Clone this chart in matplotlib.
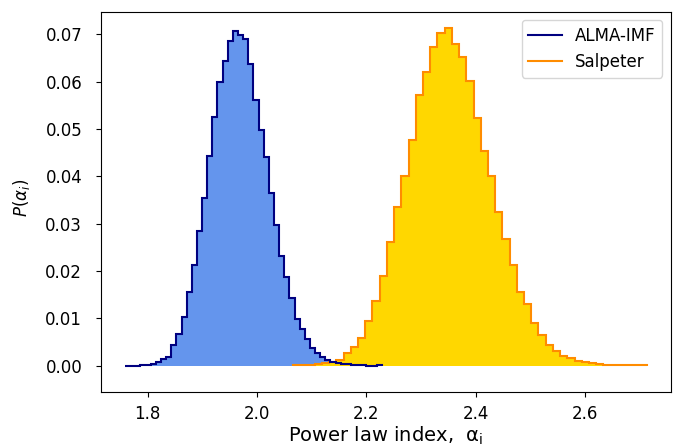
import numpy as np
import matplotlib
matplotlib.use("Agg")
import matplotlib.pyplot as plt
from matplotlib.lines import Line2D
from matplotlib.ticker import FormatStrFormatter

# Posterior of the power-law index: normalised histograms (weights sum to 1)
alma_range = (1.759, 2.228)
alma_nbins = 50
alma_prob = [
    0.0000, 0.0000, 0.0000, 0.0001, 0.0001, 0.0003, 0.0007, 0.0014, 0.0019, 0.0044,
    0.0067, 0.0104, 0.0155, 0.0212, 0.0284, 0.0354, 0.0444, 0.0526, 0.0600, 0.0643,
    0.0687, 0.0708, 0.0698, 0.0691, 0.0638, 0.0562, 0.0499, 0.0442, 0.0364, 0.0298,
    0.0231, 0.0187, 0.0143, 0.0098, 0.0077, 0.0056, 0.0037, 0.0027, 0.0018, 0.0013,
    0.0007, 0.0005, 0.0003, 0.0003, 0.0001, 0.0001, 0.0001, 0.0000, 0.0000, 0.0001,
]

salp_range = (2.066, 2.712)
salp_nbins = 49
salp_prob = [
    0.0001, 0.0001, 0.0001, 0.0003, 0.0005, 0.0008, 0.0013, 0.0026, 0.0040, 0.0059,
    0.0094, 0.0137, 0.0190, 0.0262, 0.0335, 0.0401, 0.0477, 0.0571, 0.0620, 0.0674,
    0.0703, 0.0714, 0.0680, 0.0652, 0.0602, 0.0524, 0.0454, 0.0401, 0.0324, 0.0268,
    0.0212, 0.0156, 0.0130, 0.0091, 0.0064, 0.0043, 0.0032, 0.0021, 0.0016, 0.0010,
    0.0009, 0.0006, 0.0004, 0.0001, 0.0001, 0.0001, 0.0001, 0.0001, 0.0001,
]

labels = ["ALMA-IMF", "Salpeter"]
x_ticks = [1.8, 2.0, 2.2, 2.4, 2.6]
y_ticks = [0.00, 0.01, 0.02, 0.03, 0.04, 0.05, 0.06, 0.07]

alma_edges = np.linspace(*alma_range, alma_nbins + 1)
salp_edges = np.linspace(*salp_range, salp_nbins + 1)

W, H = 673, 446
fig = plt.figure(figsize=(W / 100, H / 100), dpi=100)
ax = fig.add_axes([101 / W, 1 - 392.3 / H, 569.5 / W, 380.6 / H])

# filled areas first, outlines on top
ax.stairs(alma_prob, alma_edges, fill=True, color="cornflowerblue", lw=0)
ax.stairs(salp_prob, salp_edges, fill=True, color="gold", lw=0)
ax.stairs(salp_prob, salp_edges, color="darkorange", lw=1.5)
ax.stairs(alma_prob, alma_edges, color="navy", lw=1.5)

ax.set_xlim(1.715, 2.7555)
ax.set_ylim(-0.0056, 0.0748)
ax.set_xticks(x_ticks)
ax.set_yticks(y_ticks)
ax.yaxis.set_major_formatter(FormatStrFormatter("%.2f"))
ax.xaxis.set_major_formatter(FormatStrFormatter("%.1f"))
ax.tick_params(axis="both", labelsize=12)
ax.tick_params(axis="y", pad=10)
ax.tick_params(axis="x", pad=6)

ax.set_xlabel("Power law index,  $\\mathrm{\\alpha_i}$", fontsize=14)
ax.set_ylabel(r"$P(\alpha_i)$", fontsize=12)
ax.xaxis.set_label_coords(0.5, -0.086)
ax.yaxis.set_label_coords(-0.122, 0.51)

handles = [Line2D([], [], color="navy", lw=1.5),
           Line2D([], [], color="darkorange", lw=1.5)]
ax.legend(handles, labels, loc="upper right", fontsize=12)

fig.savefig("out.png", dpi=100)
